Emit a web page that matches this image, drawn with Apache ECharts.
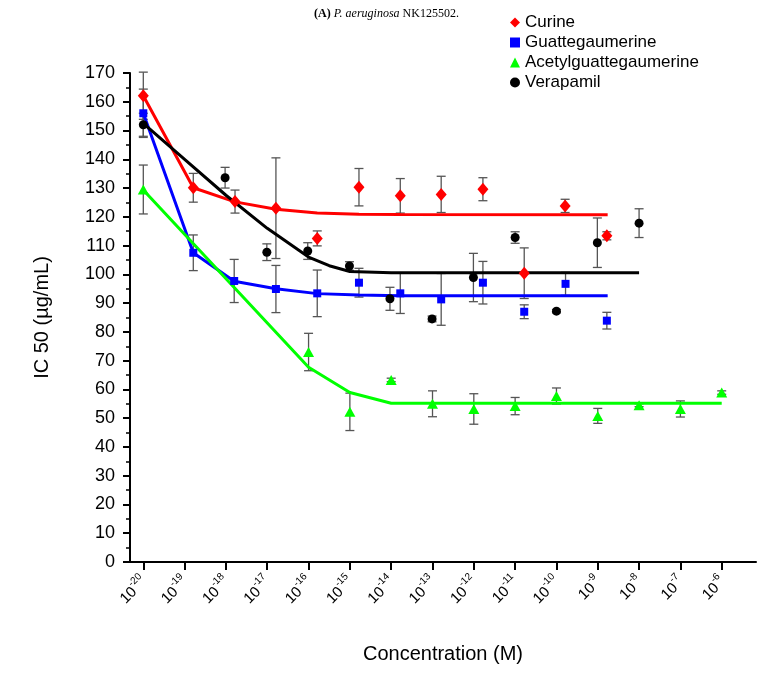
<!DOCTYPE html>
<html><head><meta charset="utf-8">
<script src="https://cdn.jsdelivr.net/npm/echarts@6/dist/echarts.min.js"></script>
<style>html,body{margin:0;padding:0;background:#fff}#c{width:773px;height:677px}</style>
</head><body><div id="c"></div>
<script>
// x values are log10 of concentration (M)
const xTickExps = [-20,-19,-18,-17,-16,-15,-14,-13,-12,-11,-10,-9,-8,-7,-6];
const yTicks = [0,170,10];

const curineX   = [-20, -18.79, -17.78, -16.79, -15.79, -14.78, -13.78, -12.79, -11.78, -10.78, -9.79, -8.78];
const curineY   = [162.1, 130.1, 125.3, 123.0, 112.5, 130.3, 127.3, 127.8, 129.6, 100.4, 123.8, 113.4];
const curineErr = [8.2, 5.0, 4.0, 17.5, 2.6, 6.5, 6.0, 6.3, 4.0, 8.8, 2.3, 1.4];
const curineFitX = [-20, -18.79, -17.78, -16.79, -15.79, -14.78, -13.78, -8.76];
const curineFitY = [162.1, 130.1, 125.2, 122.6, 121.3, 120.9, 120.8, 120.7];

const guatX   = [-20, -18.79, -17.8, -16.79, -15.79, -14.78, -13.78, -12.79, -11.78, -10.78, -9.78, -8.78];
const guatY   = [156, 107.5, 97.7, 94.9, 93.4, 97.1, 93.4, 91.3, 97.1, 87.0, 96.7, 83.9];
const guatErr = [8.4, 6.2, 7.5, 8.2, 8.1, 5.0, 7.0, 9.0, 7.4, 2.4, 4.0, 2.9];
const guatFitX = [-20, -18.79, -17.8, -16.79, -15.79, -14.78, -13.78, -8.76];
const guatFitY = [156, 107.5, 97.6, 95.0, 93.3, 92.8, 92.6, 92.6];

const acetX   = [-20, -16, -15, -14, -13, -12, -11, -10, -9, -8, -7, -6];
const acetY   = [129.5, 73.0, 52.2, 63.3, 55.0, 53.2, 54.2, 57.7, 50.8, 54.5, 53.2, 58.9];
const acetErr = [8.5, 6.5, 6.5, 0.6, 4.5, 5.3, 3.0, 2.8, 2.6, 0.5, 2.8, 0.6];
const acetFitX = [-20, -16, -15, -14, -6];
const acetFitY = [129.3, 67.7, 58.9, 55.2, 55.2];

const veraX   = [-20, -18.02, -17.01, -16.02, -15.01, -14.03, -13.01, -12.01, -11.0, -10.0, -9.01, -8.0];
const veraY   = [152, 133.6, 107.7, 108.1, 102.9, 91.5, 84.5, 98.9, 112.8, 87.2, 111.0, 117.8];
const veraErr = [4, 3.6, 2.9, 2.9, 1.5, 4.0, 1.0, 8.4, 2.0, 0.6, 8.6, 5.0];
const veraFitX = [-20, -19, -18, -17, -16, -15.5, -15, -14, -8];
const veraFitY = [152.5, 140, 127.5, 116, 106, 103, 101, 100.6, 100.6];

const seriesDefs = [
  {name:'Curine', color:'#ff0000', symbol:'diamond', size:[11,13], x:curineX, y:curineY, e:curineErr, fx:curineFitX, fy:curineFitY},
  {name:'Guattegaumerine', color:'#0000ff', symbol:'rect', size:[8,8], x:guatX, y:guatY, e:guatErr, fx:guatFitX, fy:guatFitY},
  {name:'Acetylguattegaumerine', color:'#00ff00', symbol:'triangle', size:[11,10], x:acetX, y:acetY, e:acetErr, fx:acetFitX, fy:acetFitY},
  {name:'Verapamil', color:'#000000', symbol:'circle', size:[9,9], x:veraX, y:veraY, e:veraErr, fx:veraFitX, fy:veraFitY}
];

const FONT = "'Liberation Sans', Arial, sans-serif";
const series = [];
seriesDefs.forEach(d => {
  series.push({
    type:'custom', name: d.name + ' err', z:1, silent:true,
    data: d.x.map((x,i)=>[x, d.y[i]-d.e[i], d.y[i]+d.e[i]]),
    encode:{x:0, y:[1,2]},
    renderItem:(params, api)=>{
      const x = api.value(0);
      const lo = api.coord([x, api.value(1)]);
      const hi = api.coord([x, api.value(2)]);
      const w = 4.5;
      const st = {stroke:'#555', lineWidth:1.3};
      return {type:'group', children:[
        {type:'line', shape:{x1:lo[0], y1:lo[1], x2:hi[0], y2:hi[1]}, style:st},
        {type:'line', shape:{x1:lo[0]-w, y1:lo[1], x2:lo[0]+w, y2:lo[1]}, style:st},
        {type:'line', shape:{x1:hi[0]-w, y1:hi[1], x2:hi[0]+w, y2:hi[1]}, style:st}
      ]};
    }
  });
});
seriesDefs.forEach(d => {
  series.push({
    type:'line', name: d.name + ' fit', z:2, silent:true, showSymbol:false, smooth:false,
    data: d.fx.map((x,i)=>[x, d.fy[i]]),
    lineStyle:{color:d.color, width:3}, itemStyle:{color:d.color}
  });
});
seriesDefs.forEach(d => {
  series.push({
    type:'scatter', name: d.name, z:3, symbol:d.symbol, symbolSize:d.size,
    data: d.x.map((x,i)=>[x, d.y[i]]),
    itemStyle:{color:d.color, opacity:1}
  });
});

const chart = echarts.init(document.getElementById('c'));
chart.setOption({
  animation:false,
  backgroundColor:'#fff',
  title:{
    text:'{b|(A)} {i|P. aeruginosa} NK125502.',
    left:'center', top:3,
    textStyle:{fontFamily:"'Liberation Serif', 'Times New Roman', serif", fontSize:12, fontWeight:'normal', color:'#000',
      rich:{
        b:{fontFamily:"'Liberation Serif', serif", fontSize:12, fontWeight:'bold', color:'#000'},
        i:{fontFamily:"'Liberation Serif', serif", fontSize:12, fontStyle:'italic', color:'#000'}
      }}
  },
  legend:{
    orient:'vertical', left:505, top:9, itemWidth:10, itemHeight:10, itemGap:3,
    textStyle:{fontFamily:FONT, fontSize:17, color:'#000'},
    data:[
      {name:'Curine', icon:'diamond'},
      {name:'Guattegaumerine', icon:'rect'},
      {name:'Acetylguattegaumerine', icon:'triangle'},
      {name:'Verapamil', icon:'circle'}
    ]
  },
  grid:{left:130, right:17, top:73, bottom:115},
  xAxis:{
    type:'value', min:-20.322, max:-5.17,
    name:'Concentration (M)', nameLocation:'middle', nameGap:82,
    nameTextStyle:{fontFamily:FONT, fontSize:20, color:'#000'},
    axisLine:{show:true, onZero:false, lineStyle:{color:'#000', width:2}},
    axisTick:{show:true, inside:false, length:8, lineStyle:{color:'#000', width:2}, customValues:xTickExps},
    axisLabel:{
      customValues:xTickExps, rotate:45, margin:16, color:'#000',
      formatter:(v)=>'{b|10}{s|' + v + '}',
      rich:{
        b:{fontFamily:FONT, fontSize:15, color:'#000', lineHeight:19, verticalAlign:'bottom'},
        s:{fontFamily:FONT, fontSize:10, color:'#000', lineHeight:11, verticalAlign:'top'}
      }
    },
    splitLine:{show:false}
  },
  yAxis:{
    type:'value', min:yTicks[0], max:yTicks[1], interval:yTicks[2],
    name:'IC 50 (µg/mL)', nameLocation:'middle', nameGap:78, nameRotate:90,
    nameTextStyle:{fontFamily:FONT, fontSize:20, color:'#000'},
    axisLine:{show:true, lineStyle:{color:'#000', width:2}},
    axisTick:{show:true, inside:false, length:7, lineStyle:{color:'#000', width:2}},
    minorTick:{show:true, splitNumber:2, length:4, lineStyle:{color:'#000', width:1.5}},
    axisLabel:{fontFamily:FONT, fontSize:18, color:'#000', margin:15},
    splitLine:{show:false}
  },
  series:series
});
</script>
</body></html>
